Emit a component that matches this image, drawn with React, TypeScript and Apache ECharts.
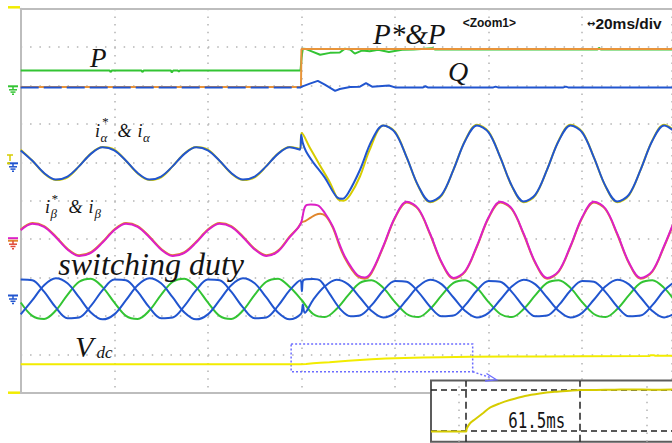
import React, { useEffect, useRef } from "react";
import * as echarts from "echarts";

// Oscilloscope capture: time in ms (20 ms/div), amplitude in screen divisions (0 = bottom, 10 = top)
const TIME_MAX = 139.2;
const TIME_DIV = 20;
const DIV_MAX = 10;

const P_MEAS: number[][] = [
  [0, 8.39], [19.0, 8.39], [19.2, 8.35], [19.5, 8.39], [25.8, 8.39], [26.0, 8.35], [26.3, 8.39],
  [32.1, 8.39], [32.3, 8.34], [32.6, 8.39], [33.6, 8.39], [33.8, 8.36], [34.0, 8.39],
  [59.8, 8.39], [60.1, 8.8], [60.3, 8.96], [61, 8.95], [62.2, 8.89], [64, 8.8], [66.1, 8.85],
  [68.2, 8.86], [69.3, 8.96], [70.4, 8.94], [71.4, 8.83], [72.9, 8.91], [74.6, 8.89], [76.4, 8.93],
  [78.7, 8.87], [81.5, 8.93], [84, 8.94], [88, 8.97], [88.5, 8.94], [123.3, 8.94], [123.6, 8.98], [124, 8.94], [139.2, 8.94],
];
const P_REF: number[][] = [[0, 7.96], [59.9, 7.96], [60.0, 8.95], [139.2, 8.95]];
const Q_MEAS: number[][] = [
  [0, 7.95], [59.9, 7.95], [60.1, 7.97], [61.8, 8.05], [63.5, 8.12], [65, 8.02], [67.2, 7.86], [68.2, 7.91],
  [70.4, 7.96], [72.5, 7.97], [73.8, 8.06], [75.1, 7.97], [78.7, 8.0], [80, 7.95], [86, 7.95], [86.5, 7.98],
  [87, 7.95], [101, 7.95], [101.5, 7.97], [102, 7.95], [116, 7.95], [116.5, 7.97], [117, 7.95], [139.2, 7.95],
];
const STEP_T = 59.9;

const I_ALPHA_REF: number[][] = [
  [0, 6.33], [2.5, 6.04], [5, 5.71], [7.5, 5.54], [10, 5.61], [12.5, 5.9], [15, 6.23], [17.5, 6.4],
  [20, 6.33], [22.5, 6.04], [25, 5.71], [27.5, 5.54], [30, 5.61], [32.5, 5.9], [35, 6.23], [37.5, 6.4],
  [40, 6.33], [42.5, 6.04], [45, 5.71], [47.5, 5.54], [50, 5.61], [52.5, 5.9], [55, 6.23], [57.5, 6.4],
  [59.7, 6.35], [60.05, 6.76], [61.8, 6.38], [63.9, 5.93], [66.1, 5.47], [67.8, 5.04], [69, 5.0], [70.4, 5.15],
  [72.5, 5.63], [74.6, 6.33], [77.5, 6.96], [80, 6.8], [82.5, 6.13], [85, 5.37], [87.5, 4.96], [90, 5.14],
  [92.5, 5.81], [95, 6.57], [97.5, 6.98], [100, 6.8], [102.5, 6.13], [105, 5.37], [107.5, 4.96], [110, 5.14],
  [112.5, 5.81], [115, 6.57], [117.5, 6.98], [120, 6.8], [122.5, 6.13], [125, 5.37], [127.5, 4.96], [130, 5.14],
  [132.5, 5.81], [135, 6.57], [137.5, 6.98], [140, 6.8],
];
const I_ALPHA: number[][] = [
  [0, 6.31], [2.5, 6.04], [5, 5.72], [7.5, 5.55], [10, 5.63], [12.5, 5.9], [15, 6.22], [17.5, 6.39],
  [20, 6.31], [22.5, 6.04], [25, 5.72], [27.5, 5.55], [30, 5.63], [32.5, 5.9], [35, 6.22], [37.5, 6.39],
  [40, 6.31], [42.5, 6.04], [45, 5.72], [47.5, 5.55], [50, 5.63], [52.5, 5.9], [55, 6.22], [57.5, 6.39],
  [59.7, 6.33], [59.95, 6.72], [60.3, 6.5], [61, 6.28], [62.5, 6.0], [65, 5.6], [67.5, 5.1], [68.8, 5.05],
  [70, 5.2], [72.5, 5.8], [75, 6.56], [77.5, 6.96], [80, 6.78], [82.5, 6.13], [85, 5.38], [87.5, 4.98],
  [90, 5.16], [92.5, 5.81], [95, 6.56], [97.5, 6.96], [100, 6.78], [102.5, 6.13], [105, 5.38], [107.5, 4.98],
  [110, 5.16], [112.5, 5.81], [115, 6.56], [117.5, 6.96], [120, 6.78], [122.5, 6.13], [125, 5.38], [127.5, 4.98],
  [130, 5.16], [132.5, 5.81], [135, 6.56], [137.5, 6.96], [140, 6.78],
];
const I_BETA_REF: number[][] = [
  [0, 4.23], [2.5, 4.4], [5, 4.32], [7.5, 4.05], [10, 3.73], [12.5, 3.56], [15, 3.64], [17.5, 3.91],
  [20, 4.23], [22.5, 4.4], [25, 4.32], [27.5, 4.05], [30, 3.73], [32.5, 3.56], [35, 3.64], [37.5, 3.91],
  [40, 4.23], [42.5, 4.4], [45, 4.32], [47.5, 4.05], [50, 3.73], [52.5, 3.56], [55, 3.68], [57.5, 4.05],
  [59.3, 4.3], [60, 4.45], [60.8, 4.85], [62, 4.9], [63.5, 4.88], [65, 4.68], [66.7, 4.33], [68.2, 3.85],
  [69.3, 3.54], [70.8, 3.24], [72, 3.06], [73.5, 3.0], [75, 3.15], [77.5, 3.82], [80, 4.57], [82.5, 4.97],
  [85, 4.79], [87.5, 4.14], [90, 3.39], [92.5, 2.99], [95, 3.17], [97.5, 3.82], [100, 4.57], [102.5, 4.97],
  [105, 4.79], [107.5, 4.14], [110, 3.39], [112.5, 2.99], [115, 3.17], [117.5, 3.82], [120, 4.57], [122.5, 4.97],
  [125, 4.79], [127.5, 4.14], [130, 3.39], [132.5, 2.99], [135, 3.17], [137.5, 3.82], [140, 4.57],
];
const I_BETA: number[][] = [
  [0, 4.25], [2.5, 4.42], [5, 4.34], [7.5, 4.07], [10, 3.75], [12.5, 3.58], [15, 3.66], [17.5, 3.93],
  [20, 4.25], [22.5, 4.42], [25, 4.34], [27.5, 4.07], [30, 3.75], [32.5, 3.58], [35, 3.66], [37.5, 3.93],
  [40, 4.25], [42.5, 4.42], [45, 4.34], [47.5, 4.07], [50, 3.75], [52.5, 3.58], [55, 3.7], [57.5, 4.07],
  [59.3, 4.3], [60, 4.43], [60.8, 4.47], [62, 4.56], [63, 4.63], [64, 4.66], [65.2, 4.6], [66.7, 4.3],
  [68.2, 3.8], [69.3, 3.5], [70.8, 3.2], [72, 3.03], [73.5, 2.97], [75, 3.12], [77.5, 3.8], [80, 4.55],
  [82.5, 4.95], [85, 4.77], [87.5, 4.12], [90, 3.37], [92.5, 2.97], [95, 3.15], [97.5, 3.8], [100, 4.55],
  [102.5, 4.95], [105, 4.77], [107.5, 4.12], [110, 3.37], [112.5, 2.97], [115, 3.15], [117.5, 3.8], [120, 4.55],
  [122.5, 4.95], [125, 4.77], [127.5, 4.12], [130, 3.37], [132.5, 2.97], [135, 3.15], [137.5, 3.8], [140, 4.55],
];
const DUTY_A: number[][] = [
  [0, 2.95], [2.5, 2.93], [5, 2.63], [7.5, 2.22], [10, 1.94], [12.5, 1.96], [15, 2.26], [17.5, 2.67],
  [20, 2.95], [22.5, 2.93], [25, 2.63], [27.5, 2.22], [30, 1.94], [32.5, 1.96], [35, 2.26], [37.5, 2.67],
  [40, 2.95], [42.5, 2.93], [45, 2.63], [47.5, 2.22], [50, 1.94], [52.5, 1.96], [55, 2.26], [57.5, 2.67],
  [59.8, 2.93], [60.1, 2.64], [60.4, 2.93], [62.5, 2.96], [64, 2.92], [66, 2.58], [68.5, 2.15], [70.5, 1.99],
  [72.5, 2.01], [75, 2.28], [77.5, 2.66], [80, 2.91], [82.5, 2.89], [85, 2.62], [87.5, 2.24], [90, 1.99],
  [92.5, 2.01], [95, 2.28], [97.5, 2.66], [100, 2.91], [102.5, 2.89], [105, 2.62], [107.5, 2.24], [110, 1.99],
  [112.5, 2.01], [115, 2.28], [117.5, 2.66], [120, 2.91], [122.5, 2.89], [125, 2.62], [127.5, 2.24], [130, 1.99],
  [132.5, 2.01], [135, 2.28], [137.5, 2.66], [140, 2.91],
];
const DUTY_B: number[][] = [
  [0, 2.04], [2.5, 2.41], [5, 2.8], [7.5, 2.98], [10, 2.85], [12.5, 2.48], [15, 2.09], [17.5, 1.91],
  [20, 2.04], [22.5, 2.41], [25, 2.8], [27.5, 2.98], [30, 2.85], [32.5, 2.48], [35, 2.09], [37.5, 1.91],
  [40, 2.04], [42.5, 2.41], [45, 2.8], [47.5, 2.98], [50, 2.85], [52.5, 2.48], [55, 2.09], [57.5, 1.91],
  [59.9, 2.05], [60.3, 2.3], [60.7, 2.08], [62.5, 2.42], [65, 2.77], [67.5, 2.94], [70, 2.82], [72.5, 2.48],
  [75, 2.13], [77.5, 1.96], [80, 2.08], [82.5, 2.42], [85, 2.77], [87.5, 2.94], [90, 2.82], [92.5, 2.48],
  [95, 2.13], [97.5, 1.96], [100, 2.08], [102.5, 2.42], [105, 2.77], [107.5, 2.94], [110, 2.82], [112.5, 2.48],
  [115, 2.13], [117.5, 1.96], [120, 2.08], [122.5, 2.42], [125, 2.77], [127.5, 2.94], [130, 2.82], [132.5, 2.48],
  [135, 2.13], [137.5, 1.96], [140, 2.08],
];
const DUTY_C: number[][] = [
  [0, 2.35], [2.5, 2.0], [5, 1.92], [7.5, 2.14], [10, 2.55], [12.5, 2.89], [15, 2.97], [17.5, 2.75],
  [20, 2.35], [22.5, 2.0], [25, 1.92], [27.5, 2.14], [30, 2.55], [32.5, 2.89], [35, 2.97], [37.5, 2.75],
  [40, 2.35], [42.5, 2.0], [45, 1.92], [47.5, 2.14], [50, 2.55], [52.5, 2.89], [55, 2.97], [57.5, 2.75],
  [60, 2.42], [62.5, 2.05], [65, 1.97], [67.5, 2.18], [70, 2.54], [72.5, 2.86], [75, 2.93], [77.5, 2.73],
  [80, 2.36], [82.5, 2.05], [85, 1.97], [87.5, 2.18], [90, 2.54], [92.5, 2.86], [95, 2.93], [97.5, 2.73],
  [100, 2.36], [102.5, 2.05], [105, 1.97], [107.5, 2.18], [110, 2.54], [112.5, 2.86], [115, 2.93], [117.5, 2.73],
  [120, 2.36], [122.5, 2.05], [125, 1.97], [127.5, 2.18], [130, 2.54], [132.5, 2.86], [135, 2.93], [137.5, 2.73],
  [140, 2.36],
];
const VDC: number[][] = [
  [0, 0.74], [59.9, 0.74], [61, 0.75], [62.5, 0.77], [64, 0.78], [66, 0.79], [68, 0.81], [70, 0.83],
  [72.5, 0.85], [75, 0.87], [78, 0.89], [82, 0.905], [86, 0.915], [90, 0.925], [96, 0.935], [104, 0.94],
  [112, 0.945], [120, 0.95], [134.4, 0.955], [134.6, 0.975], [135.4, 0.975], [135.6, 0.96], [139.2, 0.96],
];
// zoomed Vdc (normalised 0 = before step, 1 = settled)
const VDC_ZOOM: number[][] = [
  [41.3, -0.02], [60.2, -0.02], [60.5, 0.05], [62.3, 0.18], [65, 0.275], [69.2, 0.42], [73, 0.556], [78.4, 0.66],
  [83.7, 0.74], [91.8, 0.84], [99.8, 0.9], [107.9, 0.94], [116, 0.965], [121.5, 0.98], [130, 0.985], [140, 0.99],
  [150, 0.995], [160, 0.99], [171, 0.995],
];
const ZOOM_T_RANGE = [41.3, 170.9];
const ZOOM_V_RANGE = [-0.266, 1.2];
const SETTLE_T = [60, 121.5];
const SETTLE_LABEL = "61.5ms";
const ZOOM_GRID_T = [56, 157.3];
const ZOOM_BOX_T = [57.8, 96.6];
const ZOOM_BOX_V = [0.547, 1.27];

const GREEN = "#33c433";
const ORANGE = "#e8943a";
const BLUE = "#2155cf";
const YELLOW_DK = "#d6cc00";
const YELLOW = "#f2ec00";
const MAGENTA = "#dc20c6";
const IBETA = "#e0862c";
const GRAYLINE = "#bdbdbd";
const DOT = "#b4b4b4";

const SERIF = '"Liberation Serif","Times New Roman",serif';
const SANS = '"Liberation Sans",Arial,sans-serif';
const MONO = '"DejaVu Sans Mono",monospace';

function label(text: string, x: number, baseline: number, size: number, family = SERIF, extra: any = {}) {
  const { bold, rich, ...el } = extra;
  return {
    type: "text",
    x,
    y: baseline - 0.34 * size,
    z: 20,
    silent: true,
    ...el,
    style: {
      text,
      fontFamily: family,
      fontSize: size,
      fontStyle: family === SERIF ? "italic" : "normal",
      fontWeight: bold ? "bold" : "normal",
      fill: "#141414",
      align: "left",
      verticalAlign: "middle",
      ...(rich ? { rich } : {}),
    },
  };
}

function seg(x1: number, y1: number, x2: number, y2: number, color: string, w = 1.5, dash?: number[]) {
  return {
    type: "line",
    z: 20,
    silent: true,
    shape: { x1, y1, x2, y2 },
    style: { stroke: color, lineWidth: w, lineDash: dash },
  };
}

function ground(y: number, color: string, topColor?: string) {
  return [
    seg(8, y, 18, y, topColor || color, 2),
    seg(13, y, 13, y + 3.5, color, 1.5),
    seg(9, y + 3.5, 17, y + 3.5, color, 1.5),
    seg(10.5, y + 5.8, 15.5, y + 5.8, color, 1.5),
    seg(12, y + 8, 14, y + 8, color, 1.5),
  ];
}

const line = (name: string, data: number[][], color: string, z: number, extra: any = {}) => {
  const { lineStyle, ...rest } = extra;
  return {
    type: "line",
    name,
    data,
    symbol: "none",
    showSymbol: false,
    silent: true,
    z,
    ...rest,
    lineStyle: { color, width: 2, ...(lineStyle || {}) },
  };
};

const smooth = { smooth: 0.34 };

export default function App() {
  const ref = useRef<HTMLDivElement>(null);
  useEffect(() => {
    if (!ref.current) return;
    const chart = echarts.init(ref.current, null, { renderer: "svg" });
    const qPre = Q_MEAS.filter(([t]) => t <= STEP_T);
    const qPost = Q_MEAS.filter(([t]) => t >= STEP_T);
    const option: any = {
      animation: false,
      backgroundColor: "#ffffff",
      grid: [
        { left: 20.7, top: 8.7, right: 0, bottom: 50.3 },
        { left: 431, top: 381, right: 0, bottom: 1.3 },
      ],
      xAxis: [
        {
          type: "value", gridIndex: 0, min: 0, max: TIME_MAX, interval: TIME_DIV,
          axisLine: { show: true, onZero: false, lineStyle: { color: GRAYLINE, width: 2 } },
          axisTick: { show: false }, axisLabel: { show: false },
          splitLine: { show: true, lineStyle: { color: DOT, width: 1.5, type: [1.5, 6.2] } },
        },
        {
          type: "value", gridIndex: 0, position: "top", min: 0, max: TIME_MAX,
          axisLine: { show: true, onZero: false, lineStyle: { color: GRAYLINE, width: 2 } },
          axisTick: { show: false }, axisLabel: { show: false }, splitLine: { show: false },
        },
        {
          type: "value", gridIndex: 1, min: ZOOM_T_RANGE[0], max: ZOOM_T_RANGE[1],
          axisLine: { show: false }, axisTick: { show: false }, axisLabel: { show: false }, splitLine: { show: false },
        },
      ],
      yAxis: [
        {
          type: "value", gridIndex: 0, min: 0, max: DIV_MAX, interval: 1,
          axisLine: { show: true, onZero: false, lineStyle: { color: GRAYLINE, width: 2 } },
          axisTick: { show: false }, axisLabel: { show: false },
          splitLine: { show: true, lineStyle: { color: DOT, width: 1.5, type: [1.5, 7.86] } },
        },
        {
          type: "value", gridIndex: 1, min: ZOOM_V_RANGE[0], max: ZOOM_V_RANGE[1],
          axisLine: { show: false }, axisTick: { show: false }, axisLabel: { show: false }, splitLine: { show: false },
        },
      ],
      series: [
        line("P", P_MEAS, GREEN, 2),
        line("P*", P_REF, ORANGE, 3),
        line("Q (overlap)", qPre, BLUE, 4, { lineStyle: { type: [18, 5] } }),
        line("Q", qPost, BLUE, 4),
        line("iα*", I_ALPHA_REF, YELLOW_DK, 2, smooth),
        line("iα", I_ALPHA, BLUE, 3, smooth),
        line("iβ", I_BETA, IBETA, 2, smooth),
        line("iβ*", I_BETA_REF, MAGENTA, 3, smooth),
        line("duty c", DUTY_C, GREEN, 2, smooth),
        line("duty a", DUTY_A, BLUE, 3, smooth),
        line("duty b", DUTY_B, BLUE, 3, smooth),
        line("Vdc", VDC, YELLOW, 3, {
          markArea: {
            silent: true,
            itemStyle: { color: "rgba(0,0,0,0)", borderColor: "#6d6dff", borderWidth: 1.5, borderType: [2, 2] },
            data: [[{ coord: [ZOOM_BOX_T[0], ZOOM_BOX_V[1]] }, { coord: [ZOOM_BOX_T[1], ZOOM_BOX_V[0]] }]],
          },
        }),
        {
          ...line("Vdc zoom", VDC_ZOOM, YELLOW_DK, 6, { smooth: 0.3 }),
          xAxisIndex: 2,
          yAxisIndex: 1,
          markLine: {
            silent: true,
            symbol: "none",
            label: { show: false },
            data: [
              { yAxis: 0, lineStyle: { color: "#222", width: 1.5, type: [6, 4] } },
              { yAxis: 1, lineStyle: { color: "#222", width: 1.5, type: [6, 4] } },
              { xAxis: SETTLE_T[0], lineStyle: { color: "#222", width: 1.5, type: [7, 4] } },
              { xAxis: SETTLE_T[1], lineStyle: { color: "#222", width: 1.5, type: [7, 4] } },
              { xAxis: ZOOM_GRID_T[0], lineStyle: { color: DOT, width: 1.5, type: [1.5, 6.2] } },
              { xAxis: ZOOM_GRID_T[1], lineStyle: { color: DOT, width: 1.5, type: [1.5, 6.2] } },
            ],
          },
        },
      ],
      graphic: [
        {
          type: "rect", z: 4, silent: true,
          shape: { x: 431, y: 380.5, width: 260, height: 61.2 },
          style: { fill: "#ffffff", stroke: "#5c5c5c", lineWidth: 2 },
        },
        // zoom arrow
        seg(472.7, 371.7, 491, 377.8, "#6d6dff", 1.5, [2, 2]),
        {
          type: "polyline", z: 20, silent: true,
          shape: { points: [[486.5, 373.5], [496.5, 379.8], [485, 381]] },
          style: { stroke: "#6d6dff", lineWidth: 1.3, fill: null },
        },
        // channel markers
        seg(8, 7.3, 20, 7.3, YELLOW, 2.5),
        seg(8, 392.7, 20, 392.7, YELLOW, 2.5),
        ...ground(86.3, GREEN),
        seg(7, 155, 13, 155, YELLOW_DK, 1.5),
        seg(10, 155, 10, 161, YELLOW_DK, 1.5),
        ...ground(163.3, BLUE),
        seg(7, 163.3, 10, 163.3, YELLOW_DK, 2),
        seg(8, 238.2, 18, 238.2, MAGENTA, 2),
        ...ground(240.7, "#e04a3a", IBETA),
        ...ground(295.5, BLUE),
        // labels
        label("P", 90, 66.7, 27),
        label("P*&P", 373, 44, 29),
        label("Q", 448, 81, 28),
        label("i", 95, 136.7, 18),
        label("*", 101.5, 126, 13),
        label("α", 100.5, 141.5, 13),
        label("&", 117.5, 136.7, 18),
        label("i", 137.5, 136.7, 18),
        label("α", 143, 141.5, 13),
        label("i", 45, 213, 18),
        label("*", 51, 203, 13),
        label("β", 50.5, 217.5, 13),
        label("&", 68.5, 213, 18),
        label("i", 88.5, 213, 18),
        label("β", 94.5, 217.5, 13),
        label("switching duty", 58.3, 275, 32),
        label("V", 75, 356.7, 30),
        label("dc", 96.5, 358.5, 17),
        label("<Zoom1>", 462.7, 26.7, 12, SANS, { bold: true }),
        label("{a|↔}20ms/div", 587, 29, 15.5, SANS, {
          bold: true,
          rich: { a: { fontSize: 10, fontWeight: "bold", fontFamily: '"DejaVu Sans",sans-serif', fill: "#141414" } },
        }),
        label(SETTLE_LABEL, 508.3, 427.3, 21, MONO, { scaleX: 0.75 }),
      ],
    };
    chart.setOption(option);
    return () => chart.dispose();
  }, []);
  return (
    <div
      ref={ref}
      style={{ position: "absolute", left: 0, top: 0, width: 672, height: 443, background: "#fff" }}
    />
  );
}
